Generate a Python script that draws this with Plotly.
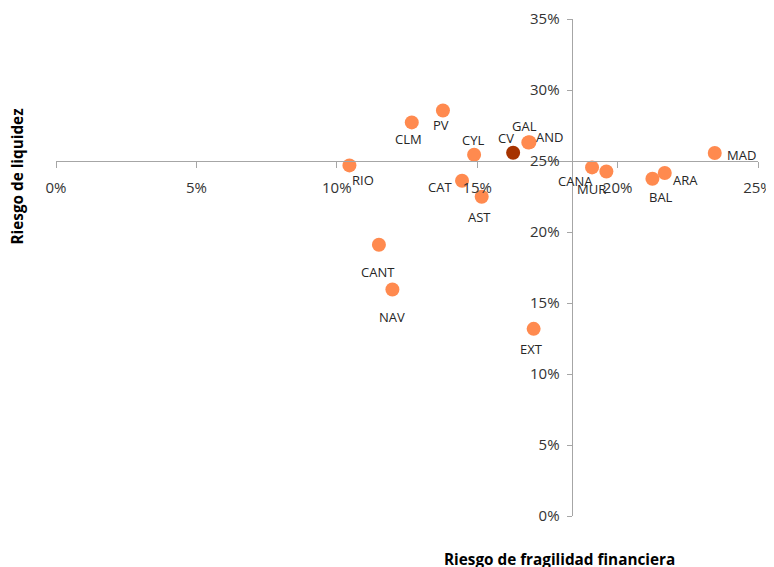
import plotly.graph_objects as go

regions = ["RIO", "CLM", "PV", "CYL", "GAL", "AND", "CAT", "AST", "CANA", "MUR",
           "BAL", "ARA", "MAD", "CANT", "NAV", "EXT", "CV"]
fragilidad = [10.45, 12.67, 13.78, 14.89, 16.82, 16.86, 14.46, 15.16, 19.09, 19.60,
              21.24, 21.68, 23.46, 11.50, 11.98, 17.01, 16.28]
liquidez = [24.69, 27.72, 28.56, 25.44, 26.30, 26.32, 23.61, 22.48, 24.55, 24.26,
            23.75, 24.15, 25.56, 19.10, 15.95, 13.18, 25.58]

x_ticks = [0, 5, 10, 15, 20, 25]
x_tick_labels = ["0%", "5%", "10%", "15%", "20%", "25%"]
y_ticks = [0, 5, 10, 15, 20, 25, 30, 35]
y_tick_labels = ["0%", "5%", "10%", "15%", "20%", "25%", "30%", "35%"]
x_cross = 25      # x axis drawn at y = 25%
y_cross = 18.36   # y axis drawn at x = 18.36%

# label offsets (style) in pixels: (xshift, yshift)
label_offsets = {
    "RIO": (14, -15), "CLM": (-3, -17), "PV": (-2, -15), "CYL": (-1, 15),
    "CV": (-7, 15), "GAL": (-4, 17), "AND": (20, 5), "CAT": (-22, -6),
    "AST": (-2, -20), "CANA": (-17, -14), "MUR": (-15, -17), "BAL": (9, -18),
    "ARA": (21, -7), "MAD": (27, -2), "CANT": (-1, -27), "NAV": (0, -27),
    "EXT": (-2, -20),
}

colors = ["#A63300" if r == "CV" else "#FF8A4F" for r in regions]

fig = go.Figure()
fig.add_trace(go.Scatter(
    x=fragilidad, y=liquidez, mode="markers",
    marker=dict(size=14, color=colors, line=dict(width=0)),
    text=regions, hoverinfo="text", showlegend=False,
))

font_family = "Open Sans, Noto Sans, DejaVu Sans, sans-serif"

for r, xv, yv in zip(regions, fragilidad, liquidez):
    dx, dy = label_offsets[r]
    fig.add_annotation(x=xv, y=yv, text=r, showarrow=False,
                       xshift=dx, yshift=dy, xanchor="center", yanchor="middle",
                       font=dict(size=13, color="#262626", family=font_family))

fig.add_annotation(xref="paper", yref="paper", x=-0.056, y=0.6825,
                   xanchor="center", yanchor="middle",
                   text="<b>Riesgo de liquidez</b>", textangle=-90,
                   showarrow=False, font=dict(size=15.3, color="#000", family=font_family))
fig.add_annotation(xref="paper", yref="paper", x=0.7175, y=-0.087,
                   xanchor="center", yanchor="middle",
                   text="<b>Riesgo de fragilidad financiera</b>",
                   showarrow=False, font=dict(size=15.3, color="#000", family=font_family))

# the page body adds an 8px offset, so the figure is sized to end at the window edge
fig.update_layout(
    width=766, height=559,
    margin=dict(l=48, r=16, t=11, b=51, pad=0, autoexpand=False),
    paper_bgcolor="white", plot_bgcolor="white",
    font=dict(family=font_family, size=15, color="#333333"),
    xaxis=dict(range=[0, 25], tickvals=x_ticks, ticktext=x_tick_labels,
               anchor="free", position=x_cross / 35, automargin=False,
               showline=True, linecolor="#A6A6A6", linewidth=1,
               ticks="outside", ticklen=6, tickcolor="#A6A6A6",
               showgrid=False, zeroline=False, ticklabelstandoff=7),
    yaxis=dict(range=[0, 35], tickvals=y_ticks, ticktext=y_tick_labels,
               anchor="free", position=y_cross / 25, automargin=False,
               showline=True, linecolor="#A6A6A6", linewidth=1,
               ticks="outside", ticklen=5, tickcolor="#A6A6A6",
               showgrid=False, zeroline=False, ticklabelstandoff=4),
)

fig.write_html("out.html")
